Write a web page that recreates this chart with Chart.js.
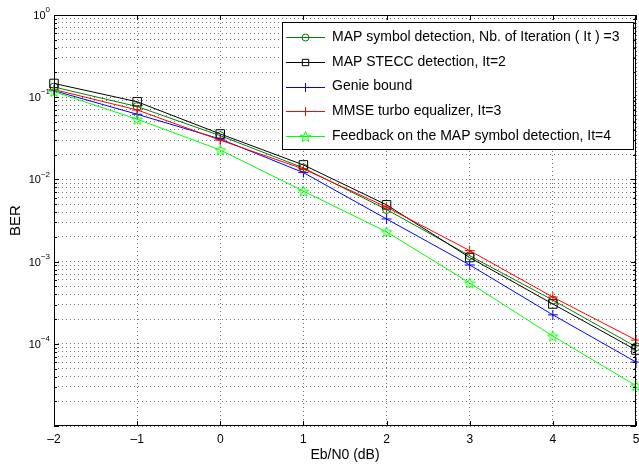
<!DOCTYPE html>
<html>
<head>
<meta charset="utf-8">
<script src="https://cdn.jsdelivr.net/npm/chart.js@4"></script>
<style>
html, body { margin: 0; padding: 0; background: #fff; }
#wrap { width: 639px; height: 466px; }
</style>
</head>
<body>
<div id="wrap"><canvas id="ber"></canvas></div>
<script>
// Data
const ebn0 = [-2, -1, 0, 1, 2, 3, 4, 5];
const mapSymbol = [0.133, 0.077, 0.034, 0.0138, 0.0043, 0.00118, 0.00034, 0.000092];
const mapStecc = [0.147, 0.088, 0.0357, 0.0150, 0.0049, 0.00112, 0.000305, 0.000084];
const genie = [0.12, 0.062, 0.031, 0.0121, 0.0033, 0.00091, 0.000225, 0.00006];
const mmse = [0.124, 0.07, 0.030, 0.0134, 0.0046, 0.00136, 0.00037, 0.000111];
const feedback = [0.117, 0.054, 0.0228, 0.0072, 0.0023, 0.00055, 0.000124, 0.0000309];

const seriesNames = [
  'MAP symbol detection, Nb. of Iteration ( It ) =3',
  'MAP STECC detection, It=2',
  'Genie bound',
  'MMSE turbo equalizer, It=3',
  'Feedback on the MAP symbol detection, It=4'
];
const seriesColors = ['#008000', '#000000', '#0000ff', '#ff0000', '#00ff00'];
const xTicks = [-2, -1, 0, 1, 2, 3, 4, 5];
const yDecades = [1e-5, 1e-4, 1e-3, 1e-2, 1e-1, 1];
const yLabelDecades = [1e-4, 1e-3, 1e-2, 1e-1, 1];
const yExps = ['-4', '-3', '-2', '-1', '0'];

const FONT = 'Liberation Sans, Arial, Helvetica, sans-serif';

// pentagram marker like matlab 'p'
function makeStar(color) {
  const c = document.createElement('canvas');
  c.width = 13; c.height = 13;
  const g = c.getContext('2d');
  g.strokeStyle = color;
  g.lineWidth = 1;
  g.beginPath();
  for (let i = 0; i < 10; i++) {
    const r = i % 2 === 0 ? 5.5 : 2.3;
    const a = -Math.PI / 2 + i * Math.PI / 5;
    const px = 6.5 + r * Math.cos(a), py = 7 + r * Math.sin(a);
    if (i === 0) g.moveTo(px, py); else g.lineTo(px, py);
  }
  g.closePath();
  g.stroke();
  return c;
}
const starImg = makeStar(seriesColors[4]);

function toPoints(vals) {
  return ebn0.map((x, i) => ({ x: x, y: vals[i] }));
}

function ds(i, vals, style, radius) {
  return {
    label: seriesNames[i],
    data: toPoints(vals),
    borderColor: seriesColors[i],
    borderWidth: 1,
    backgroundColor: 'rgba(0,0,0,0)',
    pointStyle: style,
    pointRadius: radius,
    pointBorderColor: seriesColors[i],
    pointBackgroundColor: 'rgba(0,0,0,0)',
    pointBorderWidth: 1,
    tension: 0,
    clip: false,
    order: 5 - i
  };
}

const datasets = [
  ds(0, mapSymbol, 'circle', 4),
  ds(1, mapStecc, 'rect', 6),
  ds(2, genie, 'cross', 5),
  ds(3, mmse, 'cross', 5),
  ds(4, feedback, starImg, 6)
];
// smaller markers in the legend
const legendRadius = [3.5, 4.5, 4.5, 4.5, 6];

// axes box, inward ticks, y labels, titles, legend
const decorations = {
  id: 'decorations',
  afterDraw(chart) {
    const ctx = chart.ctx;
    const a = chart.chartArea;
    const xs = chart.scales.x, ys = chart.scales.y;
    ctx.save();
    ctx.setLineDash([]);
    ctx.strokeStyle = '#000';
    ctx.lineWidth = 1;
    ctx.strokeRect(a.left + 0.5, a.top + 0.5, a.right - a.left - 1, a.bottom - a.top - 1);

    ctx.beginPath();
    xTicks.forEach(v => {
      const px = Math.round(xs.getPixelForValue(v)) + 0.5;
      ctx.moveTo(px, a.bottom); ctx.lineTo(px, a.bottom - 5);
      ctx.moveTo(px, a.top); ctx.lineTo(px, a.top + 5);
    });
    ys.ticks.forEach(t => {
      const major = yDecades.some(d => Math.abs(d - t.value) / d < 1e-6);
      const len = major ? 5 : 3;
      const py = Math.round(ys.getPixelForValue(t.value)) + 0.5;
      ctx.moveTo(a.left, py); ctx.lineTo(a.left + len, py);
      ctx.moveTo(a.right, py); ctx.lineTo(a.right - len, py);
    });
    ctx.stroke();

    // y tick labels 10^k
    ctx.fillStyle = '#000';
    ctx.textBaseline = 'middle';
    yLabelDecades.forEach((d, i) => {
      const py = ys.getPixelForValue(d);
      const ex = yExps[i].replace('-', '\u2212');
      ctx.font = '8px ' + FONT;
      const ew = ctx.measureText(ex).width;
      ctx.textAlign = 'left';
      ctx.fillText(ex, a.left - 4 - ew, py - 5);
      ctx.font = '11px ' + FONT;
      ctx.textAlign = 'right';
      ctx.fillText('10', a.left - 4 - ew, py + 1);
    });

    // axis titles
    ctx.font = '14px ' + FONT;
    ctx.textAlign = 'center';
    ctx.fillText('Eb/N0 (dB)', (a.left + a.right) / 2, 455);
    ctx.save();
    ctx.translate(16, (a.top + a.bottom) / 2);
    ctx.rotate(-Math.PI / 2);
    ctx.font = '15px ' + FONT;
    ctx.fillText('BER', 0, 0);
    ctx.restore();

    // legend
    const lx = 282, ly = 22, lw = 351, lh = 127;
    ctx.fillStyle = '#fff';
    ctx.fillRect(lx, ly, lw, lh);
    ctx.strokeStyle = '#000';
    ctx.strokeRect(lx + 0.5, ly + 0.5, lw, lh);
    datasets.forEach((d, i) => {
      const cy = 37 + i * 24.8;
      const ry = Math.round(cy);
      ctx.fillStyle = seriesColors[i];
      ctx.fillRect(286, ry, 39, 1);
      ctx.setLineDash([]);
      ctx.lineWidth = 1;
      ctx.strokeStyle = seriesColors[i];
      ctx.fillStyle = 'rgba(0,0,0,0)';
      Chart.helpers.drawPoint(ctx, {
        pointStyle: d.pointStyle,
        radius: legendRadius[i],
        borderWidth: 1,
        rotation: 0
      }, 305.5, ry + 0.5);
      ctx.fillStyle = '#000';
      ctx.font = '14px ' + FONT;
      ctx.textAlign = 'left';
      ctx.textBaseline = 'middle';
      ctx.fillText(seriesNames[i], 332, cy);
    });
    ctx.restore();
  }
};

const gridColor = 'rgba(0,0,0,0.55)';

new Chart(document.getElementById('ber'), {
  type: 'line',
  data: { datasets: datasets },
  options: {
    responsive: true,
    maintainAspectRatio: false,
    animation: false,
    layout: { autoPadding: false, padding: { top: 15, right: 3, left: 0, bottom: 0 } },
    plugins: {
      legend: { display: false },
      tooltip: { enabled: false }
    },
    scales: {
      x: {
        type: 'linear',
        min: -2,
        max: 5,
        afterBuildTicks: scale => { scale.ticks = xTicks.map(v => ({ value: v })); },
        afterFit: scale => {
          scale.height = 40;
          scale.paddingLeft = 0;
          scale.paddingRight = 0;
        },
        ticks: {
          color: '#000',
          font: { family: FONT, size: 12 },
          padding: 6,
          maxRotation: 0,
          callback: v => v < 0 ? '\u2013' + (-v) : String(v)
        },
        grid: { color: gridColor, lineWidth: 1, drawTicks: false },
        border: { display: false, dash: [1, 3] }
      },
      y: {
        type: 'logarithmic',
        min: 1e-5,
        max: 1,
        afterBuildTicks: scale => {
          const t = [];
          yDecades.forEach(d => {
            for (let m = 1; m <= 9; m++) {
              if (d * m <= 1.0000001) t.push({ value: d * m });
            }
          });
          scale.ticks = t;
        },
        afterFit: scale => { scale.width = 54; },
        ticks: { display: false },
        grid: { color: gridColor, lineWidth: 1, drawTicks: false },
        border: { display: false, dash: [1, 3] }
      }
    }
  },
  plugins: [decorations]
});
</script>
</body>
</html>
